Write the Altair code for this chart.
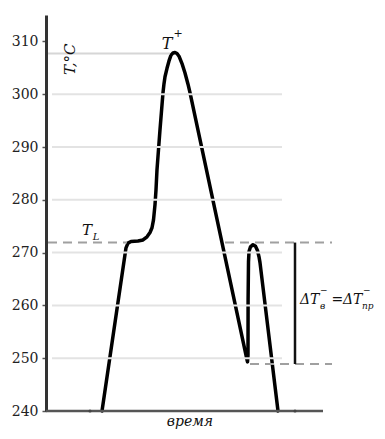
import altair as alt
import pandas as pd

# temperature curve (time in arbitrary units, temperature in °C)
curve_t = [56, 80, 82, 85, 92, 97, 101, 104, 106, 107.5, 109, 110, 111, 114, 117, 118, 119, 121, 123, 125, 127, 129,
           131, 133, 136, 139, 142, 144, 201, 201.5, 202, 202.1, 202.5, 203, 204.5, 207, 209.5, 211.5, 213, 214, 232]
curve_T = [240, 270.9, 271.8, 272.1, 272.2, 272.4, 273.0, 273.8, 274.7, 276.2, 279.1, 281.9, 285.7, 293.3, 300.3,
           302.0, 303.3, 304.9, 306.3, 307.4, 307.8, 307.9, 307.7, 307.2, 305.8, 304.0, 301.9, 300.3, 249.7, 249.3,
           250.6, 261.1, 268.3, 270.2, 271.1, 271.5, 271.2, 270.4, 269.2, 268.1, 240]

grid_T = [300, 290, 280, 270, 260, 250]
y_ticks = [240, 250, 260, 270, 280, 290, 300, 310]

T_plus = 307.7
T_L = 271.9
T_low = 248.9

serif = "DejaVu Serif"

curve = pd.DataFrame({"t": curve_t, "T": curve_T, "o": list(range(len(curve_t)))})

xs = alt.Scale(domain=[0, 300])
ys = alt.Scale(domain=[240, 315])
yaxis = alt.Axis(values=y_ticks, grid=False, title=None, domainColor="#333333", domainWidth=3,
                 tickColor="#555555", tickSize=4, tickWidth=1.5, labelFont=serif, labelFontSize=14,
                 labelColor="#222222", labelPadding=4)


def X(f):
    return alt.X(f, scale=xs, axis=None)


def Y(f):
    return alt.Y(f, scale=ys, axis=yaxis)


def hrules(x1, x2, T, **mk):
    df = pd.DataFrame({"x1": x1, "x2": x2, "T": T})
    return alt.Chart(df).mark_rule(**mk).encode(x=X("x1:Q"), x2="x2:Q", y=Y("T:Q"))


grid = hrules([6] * len(grid_T), [236] * len(grid_T), grid_T, color="#e3e3e3", strokeWidth=2)
peak_grid = hrules([2], [124], [T_plus], color="#d6d6d6", strokeWidth=2)
dashes = hrules([2, 179, 204], [81, 286, 286], [T_L, T_L, T_low],
                color="#a0a0a0", strokeWidth=2, strokeDash=[9, 6])
xaxis = hrules([0], [277], [240], color="#555555", strokeWidth=2.5)

dots = alt.Chart(pd.DataFrame({"x": [44, 249], "T": [240, 240]})).mark_point(
    filled=True, color="#444444", size=10, opacity=1).encode(x=X("x:Q"), y=Y("T:Q"))

vbar = alt.Chart(pd.DataFrame({"x": [249], "a": [T_L], "b": [T_low]})).mark_rule(
    color="#111111", strokeWidth=2.5).encode(x=X("x:Q"), y=Y("a:Q"), y2="b:Q")

line = alt.Chart(curve).mark_line(color="black", strokeWidth=3.5, interpolate="linear",
                                  strokeJoin="round", strokeCap="round").encode(
    x=X("t:Q"), y=Y("T:Q"), order="o:Q")


def txt(x, y, s, size=15, italic=True, angle=0, align="center"):
    kw = dict(font=serif, fontSize=size, color="#111111", align=align, baseline="middle")
    if italic:
        kw["fontStyle"] = "italic"
    if angle:
        kw["angle"] = angle
    return alt.Chart(pd.DataFrame({"x": [x], "y": [y], "s": [s]})).mark_text(**kw).encode(
        x=X("x:Q"), y=Y("y:Q"), text="s:N")


labels = [
    txt(24, 306.6, "T,°C", size=15, angle=270),
    txt(121, 309.6, "T", size=16),
    txt(132, 311.4, "+", size=11, italic=False),
    txt(41, 274.3, "T", size=15),
    txt(50, 273.0, "L", size=10),
    txt(254, 261.1, "ΔT", size=14, align="left"),
    txt(274, 259.9, "в", size=9, align="left"),
    txt(274, 263.0, "−", size=9, italic=False, align="left"),
    txt(285.5, 261.1, "=", size=14, italic=False, align="left"),
    txt(297, 261.1, "ΔT", size=14, align="left"),
    txt(316, 259.9, "пр", size=9, align="left"),
    txt(317, 263.0, "−", size=9, italic=False, align="left"),
    txt(144, 238.0, "время", size=14),
]

chart = alt.layer(line, grid, peak_grid, dashes, xaxis, dots, vbar, *labels).properties(
    width=300, height=396,
    padding={"left": 38, "top": 7, "right": 31, "bottom": 20},
    autosize="none",
).configure_view(stroke=None)

chart.save("out.html", embed_options={"renderer": "svg", "actions": False})
